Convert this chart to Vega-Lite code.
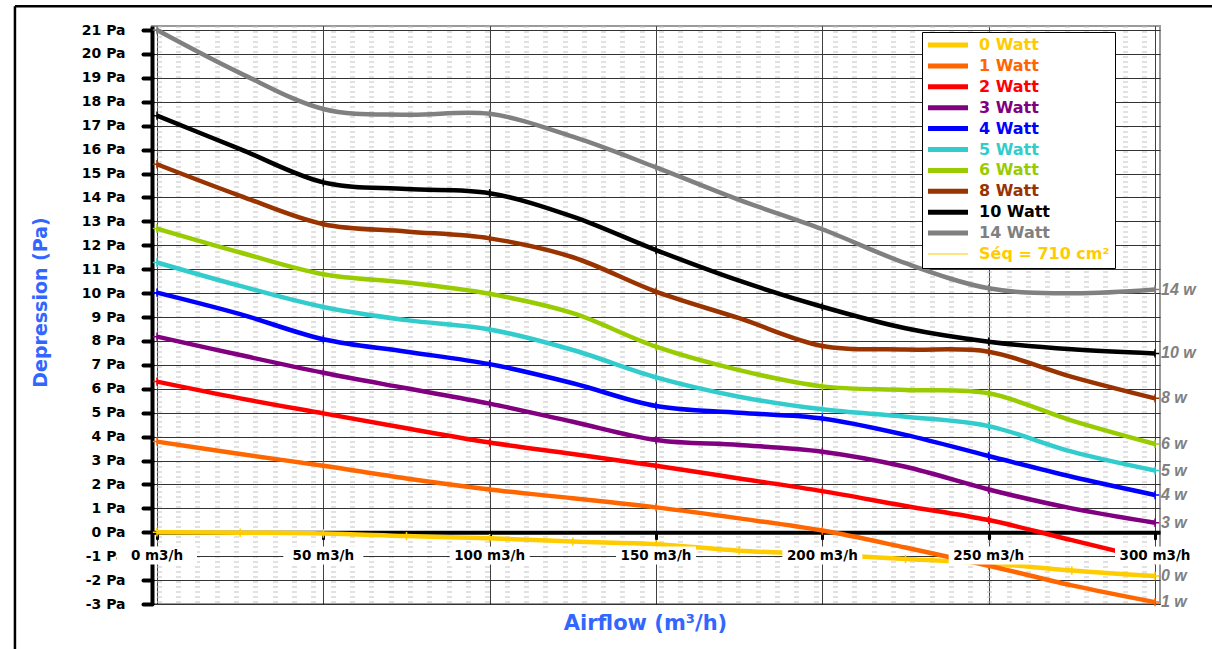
{
  "$schema": "https://vega.github.io/schema/vega-lite/v6.json",
  "width": 1008,
  "height": 578,
  "autosize": {"type": "none"},
  "padding": {"left": 152, "top": 26, "right": 52, "bottom": 45},
  "background": "white",
  "config": {"view": {"stroke": "#9a9a9a", "strokeWidth": 2}, "font": "DejaVu Sans"},
  "datasets": {
    "curves": [
      {"series": "0 Watt", "x": 0, "y": 0}, {"series": "0 Watt", "x": 25, "y": -0.02}, {"series": "0 Watt", "x": 50, "y": -0.05}, {"series": "0 Watt", "x": 75, "y": -0.16}, {"series": "0 Watt", "x": 100, "y": -0.25}, {"series": "0 Watt", "x": 125, "y": -0.39}, {"series": "0 Watt", "x": 150, "y": -0.5}, {"series": "0 Watt", "x": 175, "y": -0.77}, {"series": "0 Watt", "x": 200, "y": -0.92}, {"series": "0 Watt", "x": 225, "y": -1.12}, {"series": "0 Watt", "x": 250, "y": -1.3}, {"series": "0 Watt", "x": 275, "y": -1.6}, {"series": "0 Watt", "x": 300, "y": -1.83},
      {"series": "1 Watt", "x": 0, "y": 3.79}, {"series": "1 Watt", "x": 25, "y": 3.27}, {"series": "1 Watt", "x": 50, "y": 2.78}, {"series": "1 Watt", "x": 75, "y": 2.25}, {"series": "1 Watt", "x": 100, "y": 1.79}, {"series": "1 Watt", "x": 125, "y": 1.42}, {"series": "1 Watt", "x": 150, "y": 1.04}, {"series": "1 Watt", "x": 175, "y": 0.58}, {"series": "1 Watt", "x": 200, "y": 0.07}, {"series": "1 Watt", "x": 225, "y": -0.64}, {"series": "1 Watt", "x": 250, "y": -1.4}, {"series": "1 Watt", "x": 275, "y": -2.22}, {"series": "1 Watt", "x": 300, "y": -2.92},
      {"series": "2 Watt", "x": 0, "y": 6.3}, {"series": "2 Watt", "x": 25, "y": 5.6}, {"series": "2 Watt", "x": 50, "y": 4.97}, {"series": "2 Watt", "x": 75, "y": 4.35}, {"series": "2 Watt", "x": 100, "y": 3.75}, {"series": "2 Watt", "x": 125, "y": 3.27}, {"series": "2 Watt", "x": 150, "y": 2.78}, {"series": "2 Watt", "x": 175, "y": 2.25}, {"series": "2 Watt", "x": 200, "y": 1.72}, {"series": "2 Watt", "x": 225, "y": 1.1}, {"series": "2 Watt", "x": 250, "y": 0.51}, {"series": "2 Watt", "x": 275, "y": -0.33}, {"series": "2 Watt", "x": 300, "y": -1.18},
      {"series": "3 Watt", "x": 0, "y": 8.18}, {"series": "3 Watt", "x": 25, "y": 7.41}, {"series": "3 Watt", "x": 50, "y": 6.67}, {"series": "3 Watt", "x": 75, "y": 6.02}, {"series": "3 Watt", "x": 100, "y": 5.38}, {"series": "3 Watt", "x": 125, "y": 4.62}, {"series": "3 Watt", "x": 150, "y": 3.86}, {"series": "3 Watt", "x": 175, "y": 3.65}, {"series": "3 Watt", "x": 200, "y": 3.37}, {"series": "3 Watt", "x": 225, "y": 2.74}, {"series": "3 Watt", "x": 250, "y": 1.79}, {"series": "3 Watt", "x": 275, "y": 1.0}, {"series": "3 Watt", "x": 300, "y": 0.4},
      {"series": "4 Watt", "x": 0, "y": 10.02}, {"series": "4 Watt", "x": 25, "y": 9.12}, {"series": "4 Watt", "x": 50, "y": 8.07}, {"series": "4 Watt", "x": 75, "y": 7.55}, {"series": "4 Watt", "x": 100, "y": 7.03}, {"series": "4 Watt", "x": 125, "y": 6.23}, {"series": "4 Watt", "x": 150, "y": 5.28}, {"series": "4 Watt", "x": 175, "y": 5.0}, {"series": "4 Watt", "x": 200, "y": 4.76}, {"series": "4 Watt", "x": 225, "y": 4.07}, {"series": "4 Watt", "x": 250, "y": 3.19}, {"series": "4 Watt", "x": 275, "y": 2.32}, {"series": "4 Watt", "x": 300, "y": 1.56},
      {"series": "5 Watt", "x": 0, "y": 11.28}, {"series": "5 Watt", "x": 25, "y": 10.3}, {"series": "5 Watt", "x": 50, "y": 9.42}, {"series": "5 Watt", "x": 75, "y": 8.87}, {"series": "5 Watt", "x": 100, "y": 8.48}, {"series": "5 Watt", "x": 125, "y": 7.62}, {"series": "5 Watt", "x": 150, "y": 6.48}, {"series": "5 Watt", "x": 175, "y": 5.67}, {"series": "5 Watt", "x": 200, "y": 5.14}, {"series": "5 Watt", "x": 225, "y": 4.83}, {"series": "5 Watt", "x": 250, "y": 4.44}, {"series": "5 Watt", "x": 275, "y": 3.37}, {"series": "5 Watt", "x": 300, "y": 2.58},
      {"series": "6 Watt", "x": 0, "y": 12.7}, {"series": "6 Watt", "x": 25, "y": 11.7}, {"series": "6 Watt", "x": 50, "y": 10.79}, {"series": "6 Watt", "x": 75, "y": 10.44}, {"series": "6 Watt", "x": 100, "y": 9.97}, {"series": "6 Watt", "x": 125, "y": 9.16}, {"series": "6 Watt", "x": 150, "y": 7.76}, {"series": "6 Watt", "x": 175, "y": 6.78}, {"series": "6 Watt", "x": 200, "y": 6.1}, {"series": "6 Watt", "x": 225, "y": 5.95}, {"series": "6 Watt", "x": 250, "y": 5.81}, {"series": "6 Watt", "x": 275, "y": 4.67}, {"series": "6 Watt", "x": 300, "y": 3.69},
      {"series": "8 Watt", "x": 0, "y": 15.39}, {"series": "8 Watt", "x": 25, "y": 14.07}, {"series": "8 Watt", "x": 50, "y": 12.88}, {"series": "8 Watt", "x": 75, "y": 12.58}, {"series": "8 Watt", "x": 100, "y": 12.29}, {"series": "8 Watt", "x": 125, "y": 11.5}, {"series": "8 Watt", "x": 150, "y": 10.06}, {"series": "8 Watt", "x": 175, "y": 8.95}, {"series": "8 Watt", "x": 200, "y": 7.79}, {"series": "8 Watt", "x": 225, "y": 7.64}, {"series": "8 Watt", "x": 250, "y": 7.55}, {"series": "8 Watt", "x": 275, "y": 6.5}, {"series": "8 Watt", "x": 300, "y": 5.6},
      {"series": "10 Watt", "x": 0, "y": 17.42}, {"series": "10 Watt", "x": 25, "y": 16.02}, {"series": "10 Watt", "x": 50, "y": 14.63}, {"series": "10 Watt", "x": 75, "y": 14.35}, {"series": "10 Watt", "x": 100, "y": 14.18}, {"series": "10 Watt", "x": 125, "y": 13.2}, {"series": "10 Watt", "x": 150, "y": 11.8}, {"series": "10 Watt", "x": 175, "y": 10.52}, {"series": "10 Watt", "x": 200, "y": 9.43}, {"series": "10 Watt", "x": 225, "y": 8.53}, {"series": "10 Watt", "x": 250, "y": 7.97}, {"series": "10 Watt", "x": 275, "y": 7.65}, {"series": "10 Watt", "x": 300, "y": 7.48},
      {"series": "14 Watt", "x": 0, "y": 21.0}, {"series": "14 Watt", "x": 25, "y": 19.2}, {"series": "14 Watt", "x": 50, "y": 17.7}, {"series": "14 Watt", "x": 75, "y": 17.46}, {"series": "14 Watt", "x": 100, "y": 17.5}, {"series": "14 Watt", "x": 125, "y": 16.54}, {"series": "14 Watt", "x": 150, "y": 15.26}, {"series": "14 Watt", "x": 175, "y": 13.9}, {"series": "14 Watt", "x": 200, "y": 12.67}, {"series": "14 Watt", "x": 225, "y": 11.25}, {"series": "14 Watt", "x": 250, "y": 10.2}, {"series": "14 Watt", "x": 275, "y": 9.99}, {"series": "14 Watt", "x": 300, "y": 10.15}
    ],
    "ticks": [
      {"x": 0, "label": "0 m3/h"}, {"x": 50, "label": "50 m3/h"}, {"x": 100, "label": "100 m3/h"}, {"x": 150, "label": "150 m3/h"}, {"x": 200, "label": "200 m3/h"}, {"x": 250, "label": "250 m3/h"}, {"x": 300, "label": "300 m3/h"}
    ]
  },
  "layer": [
    {
      "data": {"name": "curves"},
      "mark": {"type": "line", "interpolate": "cardinal", "strokeWidth": 4.5},
      "encoding": {
        "x": {
          "field": "x", "type": "quantitative",
          "scale": {"domain": [0, 300], "nice": false, "zero": false},
          "axis": {
            "values": [0, 50, 100, 150, 200, 250, 300, 0.55, 6.36, 12.16, 17.97, 23.78, 29.59, 35.39, 41.2, 47.01, 52.81, 58.62, 64.43, 70.23, 76.04, 81.85, 87.66, 93.46, 99.27, 105.08, 110.88, 116.69, 122.5, 128.3, 134.11, 139.92, 145.73, 151.53, 157.34, 163.15, 168.95, 174.76, 180.57, 186.37, 192.18, 197.99, 203.8, 209.6, 215.41, 221.22, 227.02, 232.83, 238.64, 244.44, 250.25, 256.06, 261.87, 267.67, 273.48, 279.29, 285.09, 290.9, 296.71],
            "tickCount": 400,
            "labels": false,
            "grid": true,
            "gridColor": {"condition": {"test": "datum.value % 50 === 0", "value": "#000000"}, "value": "#c4c4c4"},
            "gridWidth": {"condition": {"test": "datum.value % 50 === 0", "value": 1}, "value": 5},
            "gridDash": {"condition": {"test": "datum.value % 50 === 0", "value": [1, 0]}, "value": [1, 4]},
            "tickColor": "#000000", "tickWidth": 3, "tickCap": "round", "tickSize": 6,
            "tickOpacity": {"condition": {"test": "datum.value % 50 === 0", "value": 1}, "value": 0},
            "domainColor": "#000000", "domainWidth": 4,
            "offset": -71.74,
            "title": "Airflow (m³/h)", "titleFont": "DejaVu Sans", "titleFontSize": 21, "titleFontWeight": "bold", "titleColor": "#3366FF",
            "titleX": 493, "titleY": 91, "titleAlign": "center", "titleBaseline": "middle"
          }
        },
        "y": {
          "field": "y", "type": "quantitative",
          "scale": {"domain": [-3, 21.17], "nice": false, "zero": false},
          "axis": {
            "values": [-3, -2, -1, 0, 1, 2, 3, 4, 5, 6, 7, 8, 9, 10, 11, 12, 13, 14, 15, 16, 17, 18, 19, 20, 21],
            "tickCount": 100,
            "labelExpr": "datum.value + ' Pa'",
            "labelFont": "DejaVu Sans", "labelFontWeight": "bold", "labelFontSize": 14, "labelColor": "#000000", "labelPadding": 18,
            "labelOverlap": false,
            "grid": true, "gridColor": "#333333", "gridWidth": 1,
            "domainColor": "#000000", "domainWidth": 4,
            "tickColor": "#000000", "tickWidth": 4, "tickSize": 9, "tickCap": "round",
            "title": "Depression (Pa)", "titleFont": "DejaVu Sans", "titleFontSize": 19, "titleFontWeight": "bold", "titleColor": "#3366FF",
            "titleX": -112, "titleY": 276, "titleAngle": -90, "titleAlign": "center", "titleBaseline": "middle"
          }
        },
        "color": {
          "field": "series", "type": "nominal",
          "scale": {
            "domain": ["0 Watt", "1 Watt", "2 Watt", "3 Watt", "4 Watt", "5 Watt", "6 Watt", "8 Watt", "10 Watt", "14 Watt", "Séq = 710 cm²"],
            "range": ["#FFCC00", "#FF6600", "#FF0000", "#800080", "#0000FF", "#33CCCC", "#99CC00", "#993300", "#000000", "#808080", "#FFCC00"]
          },
          "legend": {
            "orient": "none", "legendX": 770, "legendY": 6,
            "title": null,
            "fillColor": "white", "strokeColor": "#000000",
            "padding": 5,
            "labelFont": "DejaVu Sans", "labelFontSize": 16, "labelFontWeight": "bold",
            "symbolType": "stroke", "symbolStrokeWidth": 5, "symbolSize": 1600,
            "clipHeight": 16, "rowPadding": 4.9,
            "symbolOffset": 13, "labelOffset": 23,
            "encode": {
              "labels": {"update": {"fill": {"signal": "scale('color', datum.value)"}}},
              "symbols": {"update": {"strokeWidth": {"signal": "datum.value === 'Séq = 710 cm²' ? 1.2 : 5"}}}
            }
          }
        }
      }
    },
    {
      "data": {"name": "curves"},
      "transform": [{"filter": "datum.x % 50 === 0 || datum.series === '0 Watt'"}],
      "mark": {"type": "point", "shape": "M-1,0H1M0,-1V1", "filled": false, "strokeWidth": 1.5, "size": 70, "opacity": 1},
      "encoding": {
        "x": {"field": "x", "type": "quantitative"},
        "y": {"field": "y", "type": "quantitative"},
        "color": {"field": "series", "type": "nominal", "legend": null}
      }
    },
    {
      "data": {"name": "curves"},
      "transform": [
        {"filter": "datum.x === 300 && datum.series !== '2 Watt'"},
        {"calculate": "replace(datum.series, ' Watt', ' w')", "as": "endLabel"}
      ],
      "mark": {"type": "text", "align": "left", "baseline": "middle", "dx": 6, "font": "Liberation Sans", "fontSize": 16, "fontWeight": "bold", "fontStyle": "italic", "color": "#808080"},
      "encoding": {
        "x": {"field": "x", "type": "quantitative"},
        "y": {"field": "y", "type": "quantitative"},
        "text": {"field": "endLabel"}
      }
    },
    {
      "data": {"name": "ticks"},
      "mark": {"type": "bar", "width": 80, "color": "white"},
      "encoding": {
        "x": {"field": "x", "type": "quantitative"},
        "y": {"datum": -0.6},
        "y2": {"datum": -1.35}
      }
    },
    {
      "data": {"name": "ticks"},
      "mark": {"type": "text", "align": "center", "baseline": "middle", "font": "DejaVu Sans", "fontSize": 13.5, "fontWeight": "bold", "color": "#000000"},
      "encoding": {
        "x": {"field": "x", "type": "quantitative"},
        "y": {"datum": -1},
        "text": {"field": "label"}
      }
    },
    {
      "data": {"values": [{}]},
      "mark": {"type": "rule", "color": "#000000", "strokeWidth": 2.5},
      "encoding": {
        "x": {"datum": -42.7},
        "y": {"datum": 22.0},
        "y2": {"datum": -5}
      }
    },
    {
      "data": {"values": [{}]},
      "mark": {"type": "rule", "color": "#000000", "strokeWidth": 2.5},
      "encoding": {
        "x": {"datum": -42.7},
        "x2": {"datum": 320},
        "y": {"datum": 22.0}
      }
    }
  ]
}
